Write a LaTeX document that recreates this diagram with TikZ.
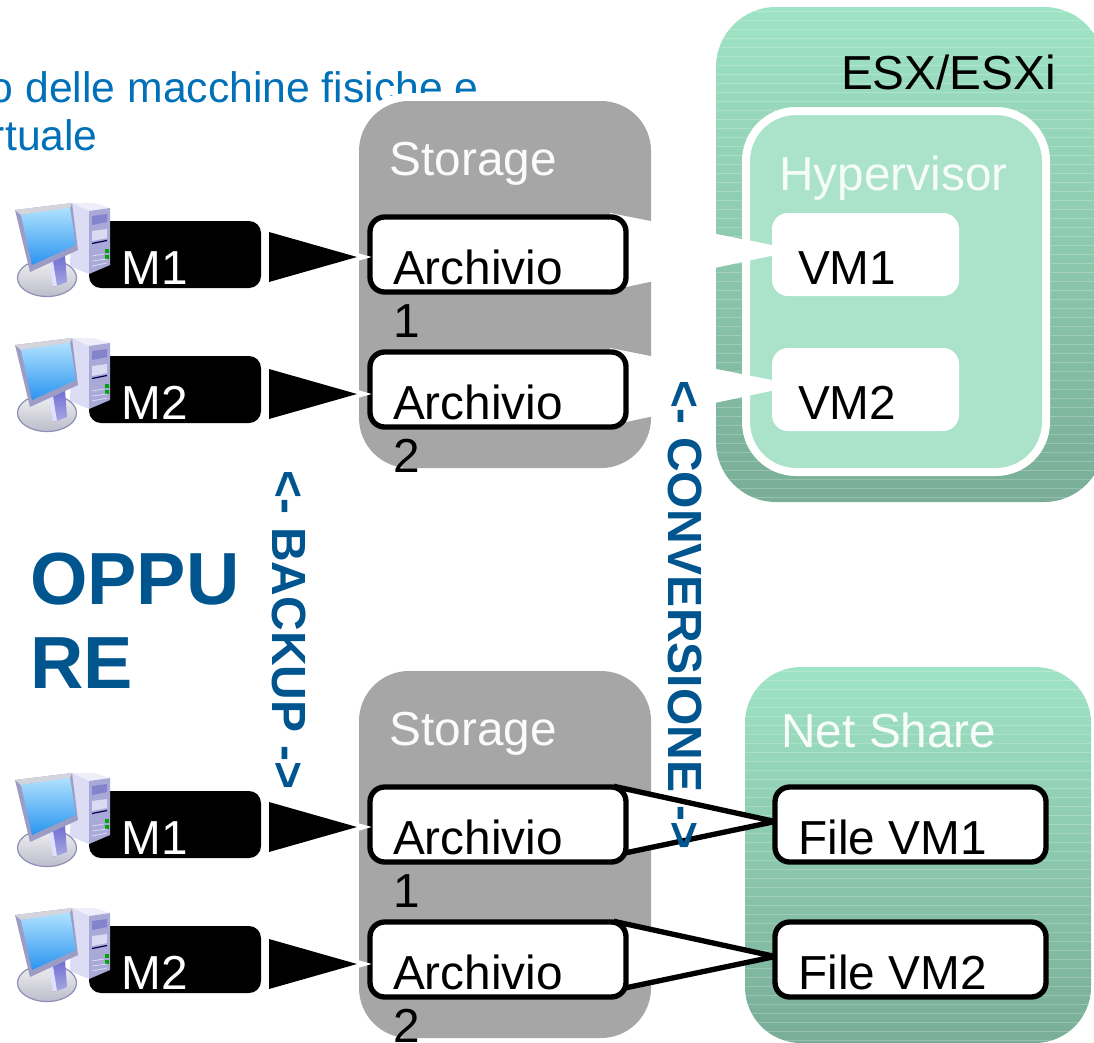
\documentclass[tikz,border=0pt]{standalone}
\usepackage{fontspec}
\setmainfont{Liberation Sans}
\usetikzlibrary{calc}
\pgfdeclarelayer{back}
\pgfdeclarelayer{mid}
\pgfsetlayers{back,mid,main}
\definecolor{titleblue}{HTML}{0070B8}
\definecolor{darkblue}{HTML}{00558F}
\definecolor{stogray}{HTML}{A6A6A6}
\definecolor{greentop}{HTML}{9FE3C5}
\definecolor{greenbot}{HTML}{79AD97}
\definecolor{hyper}{HTML}{ABE3CA}
\definecolor{scrtop}{HTML}{B0E2FF}
\definecolor{scrbot}{HTML}{2A94F0}
\definecolor{bezel}{HTML}{9C9CC4}
\definecolor{bezeltop}{HTML}{D4D4DC}
\definecolor{towerside}{HTML}{DCDCF4}
\definecolor{towertop}{HTML}{EEEEFA}
\definecolor{towerfront}{HTML}{A9A9D8}
\definecolor{bay}{HTML}{8484CC}
\definecolor{baylight}{HTML}{DADAF2}
\definecolor{standc}{HTML}{6E6ED2}
\definecolor{basetop}{HTML}{F0F0F0}
\definecolor{basebot}{HTML}{BDBDCC}
\definecolor{baseline}{HTML}{8F8FB8}
\tikzset{
  size/.style 2 args={minimum width=#1*0.75pt,minimum height=#2*0.75pt,inner sep=0pt,outer sep=0pt},
  stogroup/.style={fill=stogray,rounded corners=37.5pt,preaction={draw=white,line width=12pt}},
  greenpanel/.style={top color=greentop,bottom color=greenbot,rounded corners=45pt,
    path picture={\foreach \yy in {4,13,22,31,40,49,58,67,76,85,94,103,112,121,130,139,148,157,166,175,184,193,202,211,220,229,238,247,256,265,274,283,292,301,310,319,328,337,346,355,364,373,382,391,400,409,418,427,436,445,454,463,472,481,490}
      \draw[white,opacity=.22,line width=.6pt] ($(path picture bounding box.north west)+(0,\yy)$) -- ++(600,0);}},
  hyperbox/.style={fill=hyper,draw=white,line width=6pt,rounded corners=37.5pt},
  vmbox/.style={fill=white,rounded corners=12pt},
  filebox/.style={fill=white,draw=black,line width=4pt,rounded corners=11pt},
  machine/.style={fill=black,rounded corners=9pt},
  txt/.style={anchor=base west,inner sep=0pt,outer sep=0pt,font=\fontsize{35.8}{40}\selectfont},
  headtxt/.style={txt,text=white!95!stogray},
  rottxt/.style={anchor=base west,inner sep=0pt,outer sep=0pt,rotate=-90,text=darkblue,font=\fontsize{36}{40}\selectfont\bfseries},
  titletxt/.style={txt,text=titleblue,font=\fontsize{32}{36}\selectfont},
  bigtxt/.style={txt,text=darkblue,font=\fontsize{55.4}{60}\selectfont\bfseries},
  wedgewhite/.style={fill=white},
  wedgeblack/.style={fill=white,draw=black,line width=4pt,line join=miter},
  pointer/.style={fill=black,preaction={draw=white,line width=6pt,line join=miter}},
  computer/.pic={
    % tower
    \fill[towertop] (72,203) -- (95,203) -- (110,208) -- (89,211) -- cycle;
    \fill[towerside] (72,203) -- (89,211) -- (89,274) -- (70,266) -- cycle;
    \fill[towerfront] (89,211) -- (110,208) -- (110,265) -- (89,274) -- cycle;
    \fill[bay] (92,216) -- (107,214) -- (107,222) -- (92,225) -- cycle;
    \fill[baylight] (92,231) -- (107,229) -- (107,238) -- (92,241) -- cycle;
    \draw[black!70!blue,line width=.9pt] (92,243.5) -- (107,240.5);
    \fill[green!65!black] (105,249) rectangle (109,253);
    \fill[green!65!black] (105,255) rectangle (109,259);
    \draw[baylight,line width=.6pt] (92,256) -- (104,254) (92,261) -- (107,259) (92,266) -- (107,263);
    % base and stand
    \shade[top color=basetop,bottom color=basebot,draw=baseline,line width=.9pt] (47,278) ellipse [x radius=29.5,y radius=18.5];
    \shade[top color=standc,bottom color=standc!60!white] (50,258) -- (65,255) -- (67,282) -- (54,287) -- cycle;
    \fill[white!88!blue] (49,262) -- (53,261) -- (57,286) -- (53,286) -- cycle;
    % monitor
    \fill[bezel] (15,210) -- (72,203) -- (78,250) -- (30,272) -- cycle;
    \fill[bezeltop] (15,210) -- (72,203) -- (70,208) -- (21,215) -- cycle;
    \shade[top color=scrtop,bottom color=scrbot] (21,215) -- (70,207.5) -- (76,245) -- (32,265) -- cycle;
  }
}
\begin{document}
\begin{tikzpicture}[x=0.75pt,y=-0.75pt]
\useasboundingbox (0,0) rectangle (1094,1042);
\begin{pgfonlayer}{back}
  \node[titletxt] (title1) at (-10,102) {o delle macchine fisiche e};
  \node[titletxt] (title2) at (-9,150) {rtuale};
  \node[greenpanel,size={388}{495}] (esx) at (910,254.5) {};
  \node[greenpanel,size={346}{376},rounded corners=42pt] (net) at (918,855) {};
  \node[hyperbox,size={300}{361}] (hyp) at (896,291.5) {};
  \node[stogroup,size={292}{367}] (sto1) at (505,284.5) {};
  \node[stogroup,size={292}{367}] (sto2) at (505,854.5) {};
\end{pgfonlayer}
% machines and computers
\node[machine,size={172}{67}] (m1) at (175,254.5) {};
\node[machine,size={172}{67}] (m2) at (175,389.5) {};
\node[machine,size={172}{67}] (m3) at (175,824.5) {};
\node[machine,size={172}{67}] (m4) at (175,959.5) {};
\pic at (0,0) {computer};
\pic at (0,135) {computer};
\pic at (0,570) {computer};
\pic at (0,705) {computer};
% archives
\node[filebox,size={256}{75}] (a1) at (498,254.5) {};
\node[filebox,size={256}{75}] (a2) at (498,389.5) {};
\node[filebox,size={256}{75}] (a3) at (498,824.5) {};
\node[filebox,size={256}{75}] (a4) at (498,959.5) {};
% virtual machines
\node[vmbox,size={187}{83}] (vm1) at (865.5,254.5) {};
\node[vmbox,size={187}{83}] (vm2) at (865.5,389.5) {};
\node[filebox,size={271}{75}] (f1) at (910.5,824.5) {};
\node[filebox,size={271}{75}] (f2) at (910.5,959.5) {};
% connectors
\begin{pgfonlayer}{mid}
  \foreach \arc/\vmm in {a1/vm1,a2/vm2}{
    \fill[wedgewhite] ($(\arc.north east)+(-16,-4)$) -- ($(\vmm.west)+(0,-9.5)$) -- ($(\vmm.west)+(0,1.2)$) -- ($(\arc.south east)+(0,-5)$) -- cycle;
  }
  \foreach \arc/\fil in {a3/f1,a4/f2}{
    \filldraw[wedgeblack] ($(\arc.north east)+(-9,0)$) -- ($(\fil.west)+(0,-3)$) -- ($(\arc.south east)+(-6,-8)$) -- cycle;
  }
\end{pgfonlayer}
\foreach \mm/\arc/\off in {m1/a1/0,m2/a2/2,m3/a3/0,m4/a4/2}{
  \path[pointer] ($(\mm.east)+(8,-22.5+\off)$) -- ($(\arc.west)+(-13,2.5+\off)$) -- ($(\mm.east)+(8,27.5+\off)$) -- cycle;
}
% labels
\node[headtxt] (s1) at (389.5,175) {Storage};
\node[headtxt] (s2) at (389.5,745) {Storage};
\node[txt] (esxl) at (841,89) {ESX/ESXi};
\node[txt,text=white!88!hyper] (hypl) at (779.5,190) {Hypervisor};
\node[txt,text=white!92!hyper] (netl) at (781.5,747) {Net Share};
\node[txt] (v1) at (798,284) {VM1};
\node[txt] (v2) at (798,419) {VM2};
\node[txt] (fl1) at (798.5,854) {File VM1};
\node[txt] (fl2) at (798.5,989) {File VM2};
\node[txt] (al1) at (393,284) {Archivio};
\node[txt] (n1) at (393,337) {1};
\node[txt] (al2) at (393,419) {Archivio};
\node[txt] (n2) at (393,472) {2};
\node[txt] (al3) at (393,854) {Archivio};
\node[txt] (n3) at (393,907) {1};
\node[txt] (al4) at (393,989) {Archivio};
\node[txt] (n4) at (393,1042) {2};
\node[txt,text=white] (ml1) at (121.5,284) {M1};
\node[txt,text=white] (ml2) at (121.5,419) {M2};
\node[txt,text=white] (ml3) at (121.5,854) {M1};
\node[txt,text=white] (ml4) at (121.5,989) {M2};
\node[bigtxt] (opp1) at (30,604) {OPPU};
\node[bigtxt] (opp2) at (30,688) {RE};
\node[rottxt] (backup) at (272,470) {<- BACKUP ->};
\node[rottxt] (conv) at (668,380) {<- CONVERSIONE ->};
\end{tikzpicture}
\end{document}
